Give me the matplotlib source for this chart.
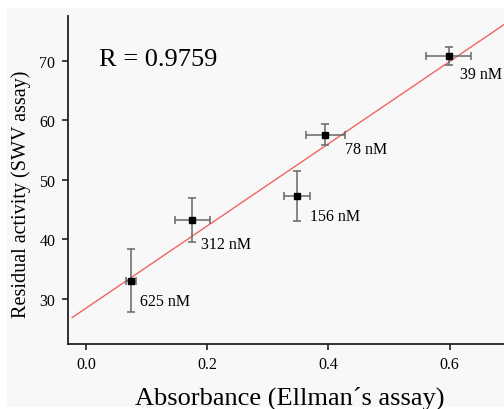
import numpy as np
import matplotlib
matplotlib.use('Agg')
import matplotlib.pyplot as plt
from matplotlib.patches import Rectangle

# dados
absorbance = [0.074, 0.175, 0.348, 0.395, 0.599]
absorbance_err = [0.009, 0.029, 0.022, 0.032, 0.037]
residual = [33.1, 43.3, 47.3, 57.6, 70.8]
residual_err = [5.3, 3.7, 4.2, 1.7, 1.45]
conc_labels = ['625 nM', '312 nM', '156 nM', '78 nM', '39 nM']
label_offsets = [(9, -20), (9, -24), (13, -20), (20, -14), (11, -18)]

plt.rcParams['font.family'] = ['Liberation Serif', 'DejaVu Serif']

fig = plt.figure(figsize=(5.04, 4.10), dpi=100)
fig.patch.set_facecolor('white')
fig.patches.append(Rectangle((7 / 504, 2 / 410), 1, (408 - 9) / 410,
                             transform=fig.transFigure, facecolor='#f8f8f8',
                             edgecolor='none', zorder=-10))

ax = fig.add_axes([68 / 504, (410 - 345) / 410, (504 - 68) / 504, (345 - 17) / 410])
ax.set_facecolor('none')

# ajuste linear
slope, intercept = np.polyfit(absorbance, residual, 1)
xl = np.array([-0.023, 0.75])
ax.plot(xl, slope * xl + intercept, color='#f06464', lw=1.0, zorder=1)

ax.errorbar(absorbance, residual, xerr=absorbance_err, yerr=residual_err,
            fmt='s', color='black', ms=5, ecolor='#666666', elinewidth=1.1,
            capsize=3, capthick=1.1, zorder=3)

for x, y, lab, off in zip(absorbance, residual, conc_labels, label_offsets):
    ax.annotate(lab, (x, y), xytext=off, textcoords='offset pixels',
                ha='left', va='center', fontsize=11.5)

ax.text(0.07, 0.87, 'R = 0.9759', transform=ax.transAxes, fontsize=19,
        ha='left', va='center')

ax.set_xlim(-0.030, 0.690)
ax.set_ylim(22.45, 77.5)
ax.set_xticks([0.0, 0.2, 0.4, 0.6])
ax.set_xticklabels(['0.0', '0.2', '0.4', '0.6'])
ax.set_yticks([30, 40, 50, 60, 70])

for s in ['top', 'right']:
    ax.spines[s].set_visible(False)
for s in ['left', 'bottom']:
    ax.spines[s].set_linewidth(1.3)
    ax.spines[s].set_color('#222222')
ax.tick_params(direction='out', length=4, width=1.2, color='#222222',
               labelsize=11.5, pad=5)

ax.set_xlabel('Absorbance (Ellman´s assay)', fontsize=19, va='baseline')
ax.xaxis.set_label_coords(0.508, -0.183)
ax.set_ylabel('Residual activity (SWV assay)', fontsize=14.5, va='center')
ax.yaxis.set_label_coords(-0.108, 0.46)

fig.savefig('out.png', dpi=100)
